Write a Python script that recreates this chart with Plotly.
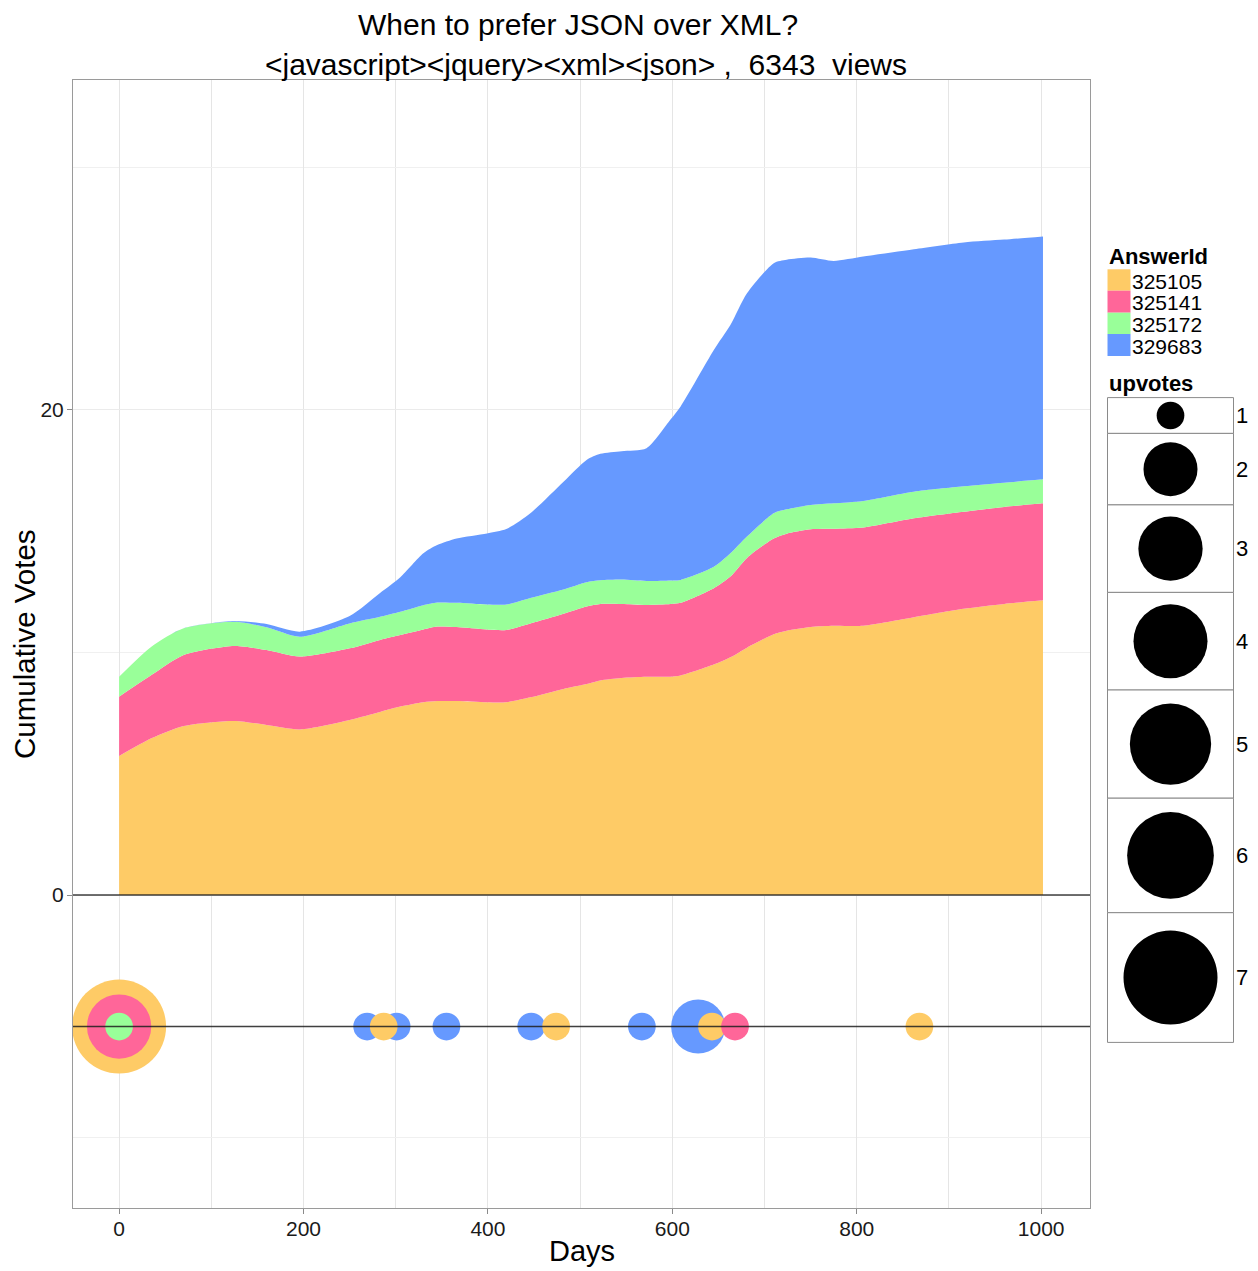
import plotly.graph_objects as go

# ---------------- data ----------------
days = [0, 35, 70, 125, 160, 196, 250, 283, 305, 330, 345, 366, 399, 420, 446, 482, 507,
        522, 545, 572, 598, 609, 645, 663, 681, 710, 724, 750, 775, 807, 862, 916, 960, 1002]
votes_325105 = [5.73, 6.46, 6.97, 7.18, 7.01, 6.83, 7.22, 7.55, 7.77, 7.95, 8.00, 8.00, 7.95, 7.95,
                8.15, 8.50, 8.70, 8.85, 8.95, 9.00, 9.00, 9.05, 9.50, 9.80, 10.20, 10.75, 10.90,
                11.05, 11.10, 11.10, 11.45, 11.80, 12.00, 12.15]
votes_325141 = [2.45, 2.61, 2.93, 3.09, 3.09, 3.00, 2.95, 2.97, 2.95, 3.00, 3.07, 3.05, 3.00, 2.98,
                3.05, 3.10, 3.20, 3.15, 3.05, 2.96, 3.00, 3.00, 3.15, 3.33, 3.70, 3.95, 4.00,
                4.03, 4.00, 4.05, 4.08, 4.00, 4.00, 4.00]
votes_325172 = [0.82, 1.17, 1.10, 1.00, 0.94, 0.82, 1.03, 0.95, 0.96, 1.00, 0.99, 1.00, 1.03, 1.05,
                1.05, 1.00, 1.00, 0.98, 1.01, 0.99, 0.97, 0.94, 0.88, 0.96, 0.88, 1.04, 1.00,
                1.00, 1.05, 1.10, 1.10, 1.05, 1.00, 0.99]
votes_329683 = [0, 0, 0, 0.03, 0.13, 0.21, 0.30, 0.98, 1.42, 2.14, 2.37, 2.65, 2.93, 3.11,
                3.49, 4.44, 5.04, 5.21, 5.29, 5.47, 6.63, 7.15, 8.94, 9.41, 10.03, 10.31, 10.29,
                10.20, 9.99, 10.07, 9.99, 10.05, 10.02, 10.01]

answer_ids = ["325105", "325141", "325172", "329683"]
area_values = [votes_325105, votes_325141, votes_325172, votes_329683]

# vote events (day, upvotes) per answer
event_days = {
    "325105": [0, 287, 474, 643, 868],
    "325141": [0, 668],
    "325172": [0],
    "329683": [269, 301, 355, 447, 567, 628],
}
event_upvotes = {
    "325105": [7, 1, 1, 1, 1],
    "325141": [3, 1],
    "325172": [1],
    "329683": [1, 1, 1, 1, 1, 2],
}
event_level = -5.42

upvote_levels = [1, 2, 3, 4, 5, 6, 7]
title_text = "When to prefer JSON over XML?"
subtitle_text = "&lt;javascript&gt;&lt;jquery&gt;&lt;xml&gt;&lt;json&gt; ,\u00a0 6343\u00a0 views"
x_title = "Days"
y_title = "Cumulative Votes"
x_ticks = [0, 200, 400, 600, 800, 1000]
y_ticks = [0, 20]

# ---------------- styles ----------------
colors = {"325105": "#FECB66", "325141": "#FF6699", "325172": "#99FF99", "329683": "#6699FF"}
size_px = {1: 27.7, 2: 54, 3: 64.3, 4: 74, 5: 81.3, 6: 86.7, 7: 94}
FONT = "Liberation Sans, Arial, Helvetica, sans-serif"

W, H = 1258, 1271
L, R, T, B = 73, 1090, 80, 1208


def pxx(p):
    return (p - L) / (R - L)


def pxy(p):
    return (B - p) / (B - T)


fig = go.Figure()

for aid, vals in zip(answer_ids, area_values):
    fig.add_trace(go.Scatter(
        x=days, y=vals, mode="lines", stackgroup="one",
        line=dict(width=0, shape="spline", smoothing=0.7, color=colors[aid]),
        fillcolor=colors[aid], showlegend=False, hoverinfo="skip", name=aid))

for aid in ["329683", "325105", "325141", "325172"]:
    fig.add_trace(go.Scatter(
        x=event_days[aid], y=[event_level] * len(event_days[aid]), mode="markers",
        marker=dict(size=[size_px[u] for u in event_upvotes[aid]], color=colors[aid],
                    opacity=1, line=dict(width=0)),
        showlegend=False, name=aid))

shapes = []
for yv in [0, event_level]:
    shapes.append(dict(type="line", xref="paper", x0=0, x1=1, yref="y", y0=yv, y1=yv,
                       line=dict(color="rgba(30,30,30,0.85)", width=1.6), layer="above"))


def txt(text, x, y, size, xanchor="center", angle=0):
    return dict(text=text, x=pxx(x), y=pxy(y), xref="paper", yref="paper", showarrow=False,
                font=dict(size=size, color="#000", family=FONT), xanchor=xanchor,
                yanchor="middle", textangle=angle, borderpad=0)


annotations = [
    txt(title_text, 578, 24, 30),
    txt(subtitle_text, 586, 65, 30),
    txt(x_title, 582, 1251, 29),
    txt(y_title, 24, 644, 29.5, angle=-90),
]

# AnswerId legend
annotations.append(txt("<b>AnswerId</b>", 1108, 256, 22, xanchor="left"))
rows = [(269.3, 290.7), (290.7, 312.7), (312.7, 334.0), (334.0, 356.0)]
for aid, (a, b) in zip(answer_ids, rows):
    shapes.append(dict(type="rect", xref="paper", yref="paper", x0=pxx(1107.5), x1=pxx(1130.5),
                       y0=pxy(b), y1=pxy(a), fillcolor=colors[aid], line=dict(width=0)))
    annotations.append(txt(aid, 1131, (a + b) / 2 + 1, 21, xanchor="left"))

# upvotes legend
annotations.append(txt("<b>upvotes</b>", 1108, 384, 22, xanchor="left"))
bounds = [397.6, 433.4, 504.9, 592.4, 690.0, 798.2, 912.7, 1042.4]
for i, u in enumerate(upvote_levels):
    a, b = bounds[i], bounds[i + 1]
    shapes.append(dict(type="rect", xref="paper", yref="paper", x0=pxx(1107.5), x1=pxx(1233.5),
                       y0=pxy(b), y1=pxy(a), fillcolor="white", line=dict(color="#8a8a8a", width=1)))
    r = size_px[u] / 2
    c = (a + b) / 2
    shapes.append(dict(type="circle", xref="paper", yref="paper", xsizemode="pixel", ysizemode="pixel",
                       xanchor=pxx(1170.5), yanchor=pxy(c), x0=-r, x1=r, y0=-r, y1=r,
                       fillcolor="black", line=dict(width=0)))
    annotations.append(txt(str(u), 1235, c, 22, xanchor="left"))

fig.update_layout(
    width=W, height=H,
    margin=dict(l=L, r=W - R, t=T, b=H - B, pad=0, autoexpand=False),
    paper_bgcolor="white", plot_bgcolor="white",
    font=dict(family=FONT, color="#000"),
    shapes=shapes, annotations=annotations, showlegend=False,
    xaxis=dict(range=[-50, 1053], tickvals=x_ticks, ticks="outside", ticklen=5, tickcolor="#8a8a8a",
               ticklabelstandoff=-3,
               tickfont=dict(size=21, color="#1a1a1a"), showgrid=True, gridcolor="#E5E5E5", gridwidth=1,
               minor=dict(dtick=100, tick0=0, showgrid=True, gridcolor="#E5E5E5", gridwidth=1),
               showline=True, mirror=True, linecolor="#9a9a9a", linewidth=1, zeroline=False,
               automargin=False),
    yaxis=dict(range=[-12.9, 33.6], tickvals=y_ticks, ticks="outside", ticklen=5, tickcolor="#8a8a8a",
               ticklabelstandoff=-1,
               tickfont=dict(size=21, color="#1a1a1a"), showgrid=True, gridcolor="#EBEBEB", gridwidth=1,
               minor=dict(tickvals=[-10, 10, 30], showgrid=True, gridcolor="#F0F0F0", gridwidth=1),
               showline=True, mirror=True, linecolor="#9a9a9a", linewidth=1, zeroline=False,
               automargin=False),
)

fig.write_html("out.html", config={"displayModeBar": False},
               post_script="document.body.style.margin='0px';document.body.style.padding='0px';")
